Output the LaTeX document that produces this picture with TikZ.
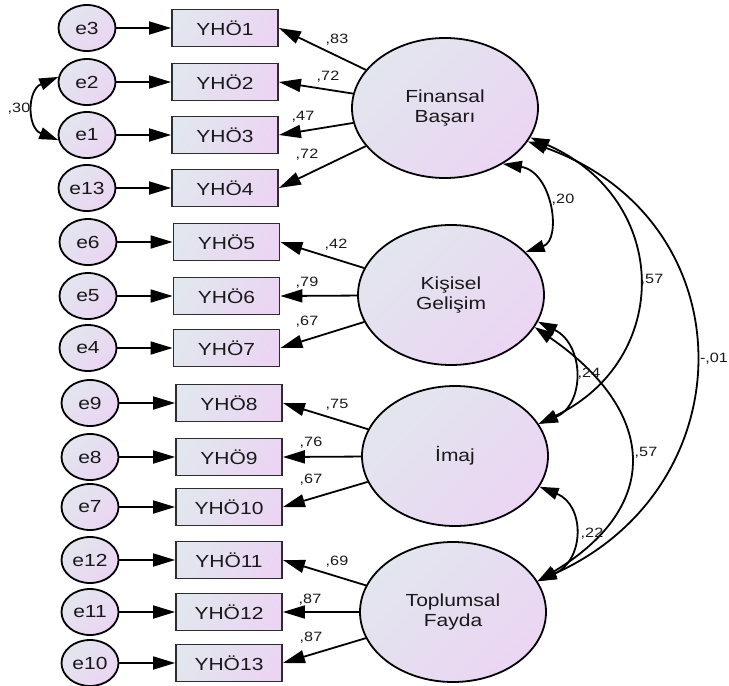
\documentclass[tikz,border=0pt]{standalone}
\usepackage{fontspec}
\setmainfont{Liberation Sans}[FakeStretch=1.2]
\usetikzlibrary{arrows.meta,shapes.geometric}
\definecolor{shA}{RGB}{226,230,238}
\definecolor{shB}{RGB}{235,213,243}
\definecolor{txt}{RGB}{25,25,25}
\definecolor{boxline}{RGB}{45,45,45}
\begin{document}
\begin{tikzpicture}[x=1pt,y=-1pt,
  every node/.style={text=txt},
  errnode/.style={ellipse, draw=black, line width=1.8pt, minimum width=57pt, minimum height=46pt,
    inner sep=0pt, top color=shA, bottom color=shB, shading angle=45,
    font=\fontsize{17.5}{20}\selectfont},
  obsnode/.style={rectangle, draw=boxline, line width=1.8pt, minimum width=106pt, minimum height=37pt,
    inner sep=0pt, top color=shA, bottom color=shB, shading angle=60,
    font=\fontsize{17.5}{20}\selectfont},
  latnode/.style={ellipse, draw=black, line width=1.8pt, minimum width=186pt, minimum height=140pt,
    inner sep=0pt, align=center, top color=shA, bottom color=shB, shading angle=45,
    font=\fontsize{17.5}{20}\selectfont},
  ld/.style={line width=1.8pt, -{Triangle[length=22pt,width=13pt]}},
  cov/.style={line width=1.8pt, {Triangle[length=19pt,width=12pt]}-{Triangle[length=19pt,width=12pt]}},
  lbl/.style={font=\fontsize{13.5}{15}\selectfont, inner sep=0pt}
]
\useasboundingbox (0,0) rectangle (729,686);

% latent variables
\node[latnode] (F) at (445,108) {Finansal\\Başarı};
\node[latnode] (K) at (451,295) {Kişisel\\Gelişim};
\node[latnode] (I) at (455,456) {İmaj};
\node[latnode] (T) at (453,612) {Toplumsal\\Fayda};

% observed variables
\node[obsnode] (y1) at (225,28) {YHÖ1};
\node[obsnode] (y2) at (225,82) {YHÖ2};
\node[obsnode] (y3) at (225,135) {YHÖ3};
\node[obsnode] (y4) at (225,188) {YHÖ4};
\node[obsnode] (y5) at (226.5,242) {YHÖ5};
\node[obsnode] (y6) at (226.5,296) {YHÖ6};
\node[obsnode] (y7) at (226.5,348) {YHÖ7};
\node[obsnode] (y8) at (229,403) {YHÖ8};
\node[obsnode] (y9) at (229,457) {YHÖ9};
\node[obsnode] (y10) at (229,507) {YHÖ10};
\node[obsnode] (y11) at (229,560) {YHÖ11};
\node[obsnode] (y12) at (229,612) {YHÖ12};
\node[obsnode] (y13) at (229,663) {YHÖ13};

% error terms
\node[errnode] (e3) at (87,28) {e3};
\node[errnode] (e2) at (87,82) {e2};
\node[errnode] (e1) at (87,135) {e1};
\node[errnode] (e13) at (87,188) {e13};
\node[errnode] (e6) at (88,242) {e6};
\node[errnode] (e5) at (88,296) {e5};
\node[errnode] (e4) at (88,348) {e4};
\node[errnode] (e9) at (90,403) {e9};
\node[errnode] (e8) at (90,457) {e8};
\node[errnode] (e7) at (90,507) {e7};
\node[errnode] (e12) at (90,560) {e12};
\node[errnode] (e11) at (90,612) {e11};
\node[errnode] (e10) at (90,663) {e10};

% error arrows
\foreach \e/\y in {e3/y1,e2/y2,e1/y3,e13/y4,e6/y5,e5/y6,e4/y7,e9/y8,e8/y9,e7/y10,e12/y11,e11/y12,e10/y13}
  \draw[ld] (\e) -- (\y);

% loadings
\foreach \l/\y in {F/y1,F/y2,F/y3,F/y4,K/y5,K/y6,K/y7,I/y8,I/y9,I/y10,T/y11,T/y12,T/y13}
  \draw[ld] (\l) -- (\y.east);

% loading labels
\node[lbl] (l1) at (337,40) {,83};
\node[lbl] (l2) at (328,77) {,72};
\node[lbl] (l3) at (303,117) {,47};
\node[lbl] (l4) at (307,155) {,72};
\node[lbl] (l5) at (336,245) {,42};
\node[lbl] (l6) at (307,283) {,79};
\node[lbl] (l7) at (307,322) {,67};
\node[lbl] (l8) at (337,405) {,75};
\node[lbl] (l9) at (311,443) {,76};
\node[lbl] (l10) at (311,480) {,67};
\node[lbl] (l11) at (337,562) {,69};
\node[lbl] (l12) at (310,600) {,87};
\node[lbl] (l13) at (311,638) {,87};

% error covariance
\draw[cov] (e2.170) .. controls (27,90) and (27,128) .. (e1.190);
\node[lbl] (c0) at (19,109) {,30};

% latent covariances
\draw[cov] (F.-44) .. controls (553,172) and (562,240) .. (K.30);
\draw[cov] (F.-19) .. controls (672,200) and (672,360) .. (I.21);
\draw[cov] (F.-22) .. controls (748,220) and (748,487) .. (T.20);
\draw[cov] (K.-17) .. controls (585,345) and (585,405) .. (I.21);
\draw[cov] (K.-21) .. controls (655,410) and (665,505) .. (T.20);
\draw[cov] (I.-20) .. controls (585,505) and (585,560) .. (T.20);

\node[lbl] (c1) at (563,200) {,20};
\node[lbl] (c2) at (652,280) {,57};
\node[lbl] (c3) at (714,359) {-,01};
\node[lbl] (c4) at (589,374) {,24};
\node[lbl] (c5) at (646,453) {,57};
\node[lbl] (c6) at (592,534) {,22};
\end{tikzpicture}
\end{document}
